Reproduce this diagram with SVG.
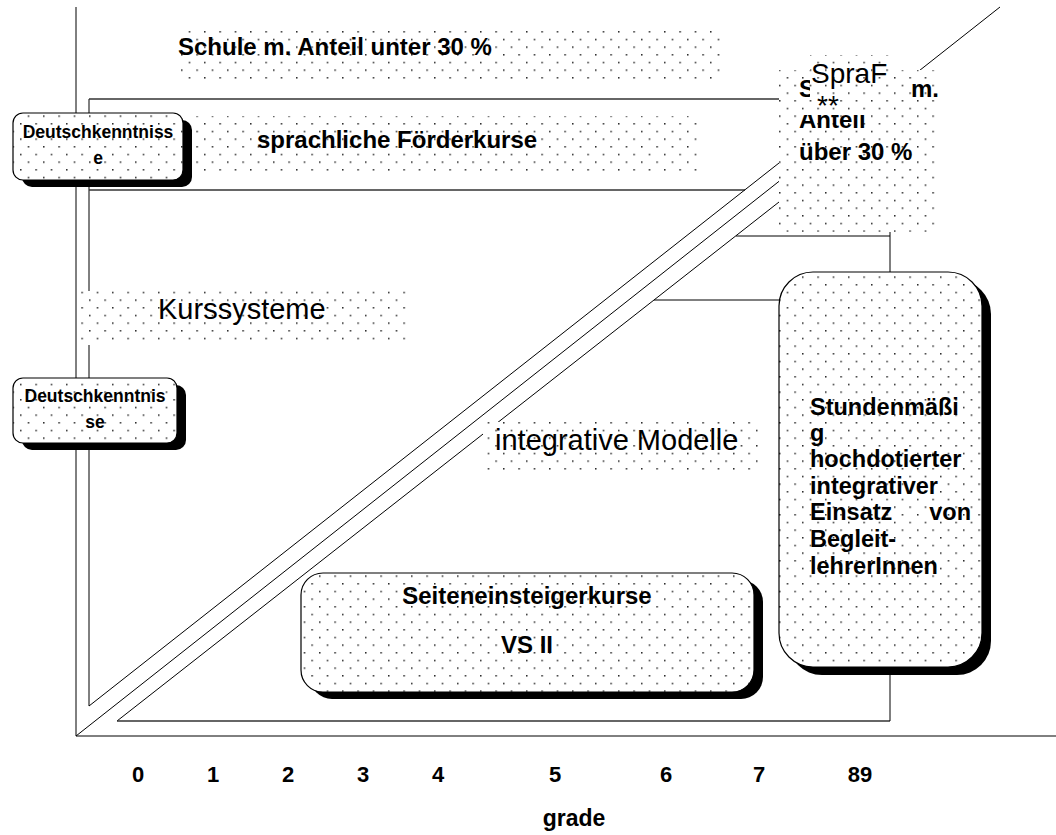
<svg xmlns="http://www.w3.org/2000/svg" width="1056" height="835" viewBox="0 0 1056 835">
  <style>
    .ln { stroke: #000; stroke-width: 1; fill: none; }
    .ln2 { stroke: #333; stroke-width: 1.6; fill: none; }
    .bg { fill: #fff; }
    .dt { fill: url(#dots); }
    .frame { fill: none; stroke: #000; stroke-width: 1.2; }
    .shadow { fill: #000; }
    .b { font-family: "Liberation Sans", Arial, sans-serif; font-weight: bold; fill: #000; }
    .r { font-family: "Liberation Sans", Arial, sans-serif; font-weight: normal; fill: #000; }
    .c { text-anchor: middle; }
  </style>
  <defs>
    <!-- fine dot raster used as the fill of every label area -->
    <pattern id="dots" patternUnits="userSpaceOnUse" x="4.7" y="0.4" width="15.333" height="15.333">
      <rect x="0" y="0" width="1.5" height="1.5" fill="#262626"/>
      <rect x="7.667" y="7.667" width="1.5" height="1.5" fill="#262626"/>
    </pattern>
  </defs>

  <!-- axes, frames and diagonals -->
  <g id="connectors">
    <line class="ln" x1="76" y1="7" x2="76" y2="736"/>
    <line class="ln" x1="76" y1="736" x2="1056" y2="736"/>
    <line class="ln" x1="76" y1="736" x2="1000" y2="7"/>
    <line class="ln" x1="89" y1="99" x2="89" y2="706"/>
    <line class="ln2" x1="89" y1="99" x2="779" y2="99"/>
    <line class="ln2" x1="89" y1="190" x2="745" y2="190"/>
    <line class="ln" x1="89" y1="706" x2="779" y2="163"/>
    <line class="ln" x1="117" y1="721" x2="779" y2="202"/>
    <line class="ln2" x1="117" y1="721" x2="890" y2="721"/>
    <line class="ln" x1="890" y1="232" x2="890" y2="721"/>
    <line class="ln" x1="736" y1="236" x2="890" y2="236"/>
    <line class="ln" x1="654" y1="300" x2="779" y2="300"/>
  </g>

  <g id="label-unter30">
    <rect class="bg" x="180" y="31" width="540" height="48"/>
    <rect class="dt" x="180" y="31" width="540" height="48"/>
    <text class="b" x="178" y="55" font-size="24">Schule m. Anteil unter 30 %</text>
  </g>

  <g id="label-foerderkurse">
    <rect class="bg" x="193" y="116" width="505" height="55"/>
    <rect class="dt" x="193" y="116" width="505" height="55"/>
    <text class="b" x="257" y="148" font-size="24">sprachliche Förderkurse</text>
  </g>

  <g id="node-deutsch-1">
    <rect class="shadow" x="22" y="120" width="170" height="67" rx="10"/>
    <rect class="bg" x="13" y="113" width="170" height="67" rx="10"/>
    <rect class="dt" x="13" y="113" width="170" height="67" rx="10"/>
    <rect class="frame" x="13" y="113" width="170" height="67" rx="10"/>
    <text class="b c" x="98" y="138" font-size="17.5">Deutschkenntniss</text>
    <text class="b c" x="98" y="164" font-size="17.5">e</text>
  </g>

  <g id="label-kurssysteme">
    <rect class="bg" x="80" y="291" width="326" height="54"/>
    <rect class="dt" x="80" y="291" width="326" height="54"/>
    <text class="r" x="158" y="319" font-size="29">Kurssysteme</text>
  </g>

  <g id="node-deutsch-2">
    <rect class="shadow" x="22" y="385" width="164" height="65" rx="10"/>
    <rect class="bg" x="13" y="378" width="164" height="65" rx="10"/>
    <rect class="dt" x="13" y="378" width="164" height="65" rx="10"/>
    <rect class="frame" x="13" y="378" width="164" height="65" rx="10"/>
    <text class="b c" x="95" y="402" font-size="17.5">Deutschkenntnis</text>
    <text class="b c" x="95" y="428" font-size="17.5">se</text>
  </g>

  <g id="label-integrativ">
    <rect class="bg" x="483" y="422" width="276" height="51"/>
    <rect class="dt" x="483" y="422" width="276" height="51"/>
    <text class="r" x="495" y="450" font-size="29">integrative Modelle</text>
  </g>

  <g id="node-seiteneinsteiger">
    <rect class="shadow" x="310" y="580" width="453" height="119" rx="22"/>
    <rect class="bg" x="301" y="573" width="453" height="119" rx="22"/>
    <rect class="dt" x="301" y="573" width="453" height="119" rx="22"/>
    <rect class="frame" x="301" y="573" width="453" height="119" rx="22"/>
    <text class="b c" x="527" y="604" font-size="24">Seiteneinsteigerkurse</text>
    <text class="b c" x="527" y="653" font-size="24">VS II</text>
  </g>

  <g id="node-ueber30">
    <rect class="bg" x="779" y="70" width="158" height="162"/>
    <rect class="dt" x="779" y="70" width="158" height="162"/>
    <text class="b" x="799" y="97" font-size="24">Schule</text>
    <text class="b" x="939" y="97" font-size="24" text-anchor="end">m.</text>
    <text class="b" x="799" y="128" font-size="24">Anteil</text>
    <text class="b" x="799" y="160" font-size="24">über 30 %</text>
  </g>

  <g id="label-spraf">
    <path class="bg" d="M810 55 H890 V101 H893 V115 H797 V101 H810 Z"/>
    <path class="dt" d="M810 55 H890 V101 H893 V115 H797 V101 H810 Z"/>
    <text class="r" x="811" y="83" font-size="28">SpraF</text>
    <text class="r" x="817" y="115" font-size="28">**</text>
  </g>

  <g id="node-begleitlehrer">
    <rect class="shadow" x="788" y="280" width="203" height="395" rx="34"/>
    <rect class="bg" x="779" y="272" width="203" height="395" rx="34"/>
    <rect class="dt" x="779" y="272" width="203" height="395" rx="34"/>
    <rect class="frame" x="779" y="272" width="203" height="395" rx="34"/>
    <text class="b" x="810" y="415" font-size="23.5">Stundenmäßi</text>
    <text class="b" x="810" y="441" font-size="23.5">g</text>
    <text class="b" x="810" y="467" font-size="23.5">hochdotierter</text>
    <text class="b" x="810" y="494" font-size="23.5">integrativer</text>
    <text class="b" x="810" y="520" font-size="23.5">Einsatz</text>
    <text class="b" x="971" y="520" font-size="23.5" text-anchor="end">von</text>
    <text class="b" x="810" y="547" font-size="23.5">Begleit-</text>
    <text class="b" x="810" y="574" font-size="23.5">lehrerInnen</text>
  </g>

  <g id="axis-labels">
    <text class="b c" x="138" y="782" font-size="22">0</text>
    <text class="b c" x="213" y="782" font-size="22">1</text>
    <text class="b c" x="288" y="782" font-size="22">2</text>
    <text class="b c" x="363" y="782" font-size="22">3</text>
    <text class="b c" x="438" y="782" font-size="22">4</text>
    <text class="b c" x="555" y="782" font-size="22">5</text>
    <text class="b c" x="666" y="782" font-size="22">6</text>
    <text class="b c" x="759" y="782" font-size="22">7</text>
    <text class="b c" x="860" y="782" font-size="22">89</text>
    <text class="b c" x="574" y="826" font-size="23">grade</text>
  </g>
</svg>
